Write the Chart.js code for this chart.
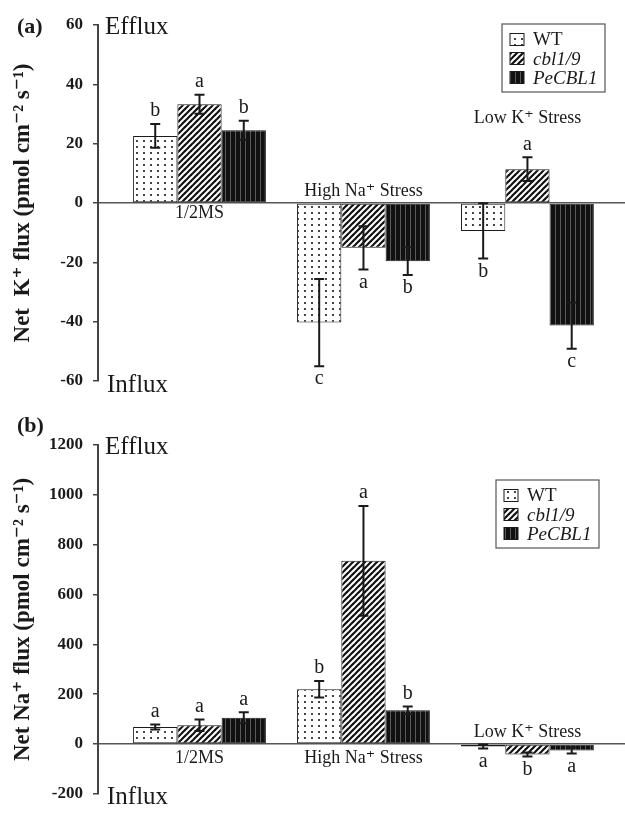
<!DOCTYPE html>
<html>
<head>
<meta charset="utf-8">
<script src="https://cdn.jsdelivr.net/npm/chart.js@4.4.0/dist/chart.umd.min.js"></script>
<style>
  html, body { margin: 0; padding: 0; background: #fff; }
  #wrap { position: relative; width: 625px; height: 814px; }
  .panel { position: absolute; left: 0; width: 625px; }
</style>
</head>
<body>
<div id="wrap">
  <div class="panel" style="top:0;height:405px"><canvas id="chartA"></canvas></div>
  <div class="panel" style="top:405px;height:409px"><canvas id="chartB"></canvas></div>
</div>
<script>
// Data
const CATEGORIES = ['1/2MS', 'High Na\u207A Stress', 'Low K\u207A Stress'];
const SERIES = ['WT', 'cbl1/9', 'PeCBL1'];

// (a) net K+ flux
const K_WT = [22.6, -40.3, -9.4];
const K_CBL = [33.3, -15.1, 11.4];
const K_PE = [24.5, -19.6, -41.3];
const K_WT_ERR = [4.0, 14.7, 9.3];
const K_CBL_ERR = [3.2, 7.3, 4.0];
const K_PE_ERR = [3.2, 4.7, 7.8];
const K_WT_SIG = ['b', 'c', 'b'];
const K_CBL_SIG = ['a', 'a', 'a'];
const K_PE_SIG = ['b', 'b', 'c'];
const K_TICKS = [-60, -40, -20, 0, 20, 40, 60];

// (b) net Na+ flux
const NA_WT = [68, 220, -10];
const NA_CBL = [75, 735, -42];
const NA_PE = [105, 135, -26];
const NA_WT_ERR = [10, 33, 8];
const NA_CBL_ERR = [23, 220, 8];
const NA_PE_ERR = [22, 15, 12];
const NA_WT_SIG = ['a', 'b', 'a'];
const NA_CBL_SIG = ['a', 'a', 'b'];
const NA_PE_SIG = ['a', 'b', 'a'];
const NA_TICKS = [-200, 0, 200, 400, 600, 800, 1000, 1200];

const SERIF = '"Liberation Serif", "DejaVu Serif", serif';
const INK = '#1a1a1a';

function makePattern(kind) {
    const c = document.createElement('canvas');
    const p = c.getContext('2d');
    if (kind === 'dots') {
        c.width = 7; c.height = 6;
        p.fillStyle = '#fff';
        p.fillRect(0, 0, 7, 6);
        p.fillStyle = '#444';
        p.fillRect(3, 2, 2, 2);
    } else if (kind === 'diag') {
        c.width = 6; c.height = 6;
        p.fillStyle = '#fff';
        p.fillRect(0, 0, 6, 6);
        p.strokeStyle = '#111';
        p.lineWidth = 2.2;
        [-6, 0, 6].forEach(ox => {
            p.beginPath();
            p.moveTo(ox - 1, 7);
            p.lineTo(ox + 7, -1);
            p.stroke();
        });
    } else {
        c.width = 5; c.height = 4;
        p.fillStyle = '#111';
        p.fillRect(0, 0, 5, 4);
        p.fillStyle = '#5a5a5a';
        p.fillRect(0, 0, 1, 4);
    }
    return p.createPattern(c, 'repeat');
}

const FILLS = [makePattern('dots'), makePattern('diag'), makePattern('vert')];

function points(values) {
    return values.map((v, i) => ({ x: i, y: v }));
}

function extrasPlugin(cfg) {
    return {
        id: 'extras',
        afterDatasetsDraw(chart) {
            const { ctx, chartArea, scales: { x, y } } = chart;
            ctx.save();

            // error bars + significance letters
            chart.data.datasets.forEach((ds, di) => {
                const meta = chart.getDatasetMeta(di);
                meta.data.forEach((bar, i) => {
                    const v = ds.data[i].y;
                    const e = ds.errors[i];
                    const yHi = y.getPixelForValue(v + e);
                    const yLo = y.getPixelForValue(v - e);
                    ctx.strokeStyle = INK;
                    ctx.lineWidth = 2;
                    ctx.beginPath();
                    ctx.moveTo(bar.x, yHi);
                    ctx.lineTo(bar.x, yLo);
                    ctx.moveTo(bar.x - 5, yHi);
                    ctx.lineTo(bar.x + 5, yHi);
                    ctx.moveTo(bar.x - 5, yLo);
                    ctx.lineTo(bar.x + 5, yLo);
                    ctx.stroke();

                    ctx.fillStyle = INK;
                    ctx.font = '20px ' + SERIF;
                    ctx.textAlign = 'center';
                    ctx.textBaseline = 'middle';
                    const ly = v >= 0 ? yHi - 13 : yLo + 13;
                    ctx.fillText(ds.letters[i], bar.x, ly);
                });
            });

            // category labels
            ctx.font = '18px ' + SERIF;
            ctx.textAlign = 'center';
            ctx.textBaseline = 'middle';
            CATEGORIES.forEach((c, i) => {
                ctx.fillText(c, x.getPixelForValue(i), y.getPixelForValue(cfg.labelAt[i]));
            });

            // Efflux / Influx
            ctx.font = '25px ' + SERIF;
            ctx.textAlign = 'left';
            ctx.fillText('Efflux', chartArea.left + 7, chartArea.top + 2);
            ctx.fillText('Influx', chartArea.left + 9, chartArea.bottom + 4);

            // panel tag
            ctx.font = 'bold 22px ' + SERIF;
            ctx.fillText(cfg.tag, 17, cfg.tagY);

            // legend
            const lg = cfg.legend;
            ctx.strokeStyle = '#555';
            ctx.lineWidth = 1.2;
            ctx.strokeRect(lg.left, lg.top, 103, 68);
            chart.data.datasets.forEach((ds, di) => {
                const cy = lg.top + 15.5 + di * 19;
                ctx.fillStyle = ds.backgroundColor;
                ctx.fillRect(lg.left + 8, cy - 6, 14, 12);
                ctx.lineWidth = 1;
                ctx.strokeStyle = INK;
                ctx.strokeRect(lg.left + 8, cy - 6, 14, 12);
                ctx.fillStyle = INK;
                ctx.font = (di > 0 ? 'italic ' : '') + '19px ' + SERIF;
                ctx.fillText(ds.label, lg.left + 31, cy + 1);
            });

            ctx.restore();
        }
    };
}

function buildChart(canvasId, cfg) {
    const datasets = cfg.series.map((vals, di) => ({
        label: SERIES[di],
        data: points(vals),
        errors: cfg.errors[di],
        letters: cfg.letters[di],
        backgroundColor: FILLS[di],
        borderColor: INK,
        borderWidth: 1,
        borderSkipped: false,
        categoryPercentage: 0.81,
        barPercentage: 1.0
    }));

    return new Chart(document.getElementById(canvasId), {
        type: 'bar',
        data: { datasets },
        options: {
            responsive: true,
            maintainAspectRatio: false,
            animation: false,
            layout: { padding: cfg.padding },
            plugins: { legend: { display: false }, tooltip: { enabled: false } },
            scales: {
                x: {
                    type: 'linear',
                    display: false,
                    offset: false,
                    min: -0.619,
                    max: 2.595,
                    // one tick per group so bar widths follow the group spacing
                    afterBuildTicks: s => { s.ticks = CATEGORIES.map((c, i) => ({ value: i })); }
                },
                y: {
                    min: cfg.ticks[0],
                    max: cfg.ticks[cfg.ticks.length - 1],
                    afterFit: s => { s.width = 98; },
                    afterBuildTicks: s => { s.ticks = cfg.ticks.map(v => ({ value: v })); },
                    border: { display: true, color: '#444', width: 2 },
                    grid: {
                        color: c => (c.tick && c.tick.value === 0 ? '#555' : 'rgba(0,0,0,0)'),
                        lineWidth: 1.5,
                        tickColor: '#444',
                        tickLength: 5,
                        tickWidth: 1.5
                    },
                    ticks: {
                        color: INK,
                        padding: 10,
                        callback: v => String(v),
                        font: { family: SERIF, size: 17, weight: 'bold' }
                    },
                    title: {
                        display: true,
                        text: cfg.title,
                        color: INK,
                        padding: { top: 12, bottom: 0 },
                        font: { family: SERIF, size: 23, weight: 'bold', lineHeight: 1 }
                    }
                }
            }
        },
        plugins: [extrasPlugin(cfg)]
    });
}

buildChart('chartA', {
    series: [K_WT, K_CBL, K_PE],
    errors: [K_WT_ERR, K_CBL_ERR, K_PE_ERR],
    letters: [K_WT_SIG, K_CBL_SIG, K_PE_SIG],
    ticks: K_TICKS,
    title: 'Net  K\u207A flux (pmol cm\u207B\u00B2 s\u207B\u00B9)',
    labelAt: [-3.4, 4, 28.4],
    padding: { top: 25, bottom: 24, left: 0, right: 0 },
    tag: '(a)',
    tagY: 27,
    legend: { left: 502, top: 24 }
});

buildChart('chartB', {
    series: [NA_WT, NA_CBL, NA_PE],
    errors: [NA_WT_ERR, NA_CBL_ERR, NA_PE_ERR],
    letters: [NA_WT_SIG, NA_CBL_SIG, NA_PE_SIG],
    ticks: NA_TICKS,
    title: 'Net Na\u207A flux (pmol cm\u207B\u00B2 s\u207B\u00B9)',
    labelAt: [-59, -59, 47],
    padding: { top: 40, bottom: 13, left: 0, right: 0 },
    tag: '(b)',
    tagY: 21,
    legend: { left: 496, top: 75 }
});
</script>
</body>
</html>
